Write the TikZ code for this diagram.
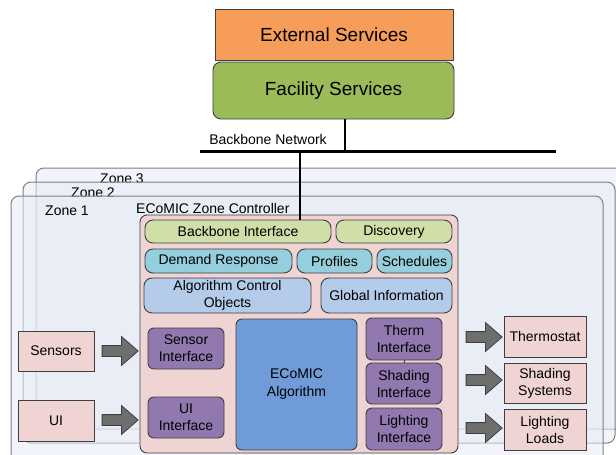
\documentclass[tikz,border=0pt]{standalone}
\usepackage{fontspec}
\setmainfont{Liberation Sans}
\usetikzlibrary{shapes.arrows}
\definecolor{extor}{HTML}{F79D5A}
\definecolor{facgr}{HTML}{9BBB59}
\definecolor{ctrlpk}{HTML}{F0D4D3}
\definecolor{bbgr}{HTML}{D0DEA8}
\definecolor{drbl}{HTML}{95CEDC}
\definecolor{acobl}{HTML}{B4CCEA}
\definecolor{purp}{HTML}{9179AF}
\definecolor{algbl}{HTML}{6F9BD8}
\definecolor{arrgr}{HTML}{6E6E6E}
\definecolor{bord}{HTML}{3F3F3F}
\definecolor{zonefill}{HTML}{E6EBF5}
\definecolor{zonebord}{HTML}{7F7F7F}
\begin{document}
\begin{tikzpicture}[x=1pt,y=-1pt,
  every node/.style={font=\fontsize{14}{17}\selectfont},
  box/.style={draw=bord, line width=0.9pt, inner sep=0pt, align=center, text=black},
  rbox/.style={box, rounded corners=6pt},
  zone/.style={draw=zonebord, line width=1pt, rounded corners=8pt, fill=zonefill, fill opacity=0.55},
  zlabel/.style={anchor=west, inner sep=0pt},
  blockarr/.style={shape=single arrow, draw=bord, fill=arrgr, line width=0.8pt,
     minimum height=36pt, inner xsep=0pt, inner ysep=5pt, single arrow head extend=9pt,
     single arrow tip angle=82},
  bigtxt/.style={font=\fontsize{19}{22}\selectfont}
]
\useasboundingbox (0,0) rectangle (616,455);

% zones
\draw[zone] (36,168) rectangle (640,429);
\node[zlabel] (z3) at (100,179) {Zone 3};
\draw[zone] (23,182) rectangle (615,443);
\node[zlabel] (z2) at (71,193) {Zone 2};
\draw[zone] (11,196) rectangle (603,475);
\node[zlabel] (z1) at (45,211) {Zone 1};

% top services
\node[box, fill=extor, bigtxt, minimum width=238pt, minimum height=51pt] (ext) at (334,34.5) {External Services};
\node[box, rounded corners=8pt, fill=facgr, bigtxt, minimum width=241pt, minimum height=57pt] (fac) at (333.5,90.5) {Facility Services};

% backbone
\coordinate (bbL) at (200,151);
\coordinate (bbR) at (556,151);
\coordinate (fdrop) at (345,151);
\coordinate (cdrop) at (300,151);
\node[anchor=center, inner sep=0pt] (bbn) at (268,139) {Backbone Network};

% controller
\node[anchor=west, inner sep=0pt] (ctl) at (136,208) {ECoMIC Zone Controller};
\node[rbox, rounded corners=7pt, fill=ctrlpk, minimum width=318pt, minimum height=238pt] (ctrl) at (299,334) {};

\node[rbox, rounded corners=8pt, fill=bbgr, minimum width=186pt, minimum height=23pt] (bbi) at (238,231.5) {Backbone Interface};
\node[rbox, rounded corners=8pt, fill=bbgr, minimum width=116pt, minimum height=23pt] (disc) at (394,231.5) {Discovery};

\node[rbox, rounded corners=8pt, fill=drbl, minimum width=147pt, minimum height=24pt] (dr) at (218.5,261) {Demand Response};
\node[rbox, rounded corners=8pt, fill=drbl, minimum width=75pt, minimum height=24pt] (prof) at (334.5,261) {Profiles};
\node[rbox, rounded corners=8pt, fill=drbl, minimum width=75pt, minimum height=24pt] (sched) at (414.5,261) {Schedules};

\node[rbox, rounded corners=8pt, fill=acobl, minimum width=167pt, minimum height=35pt] (aco) at (227.5,295.5) {Algorithm Control\\Objects};
\node[rbox, rounded corners=8pt, fill=acobl, minimum width=131pt, minimum height=35pt] (glob) at (386.5,295.5) {Global Information};

\node[rbox, fill=purp, minimum width=76pt, minimum height=41pt] (sens) at (186,348.5) {Sensor\\Interface};
\node[rbox, fill=purp, minimum width=76pt, minimum height=41pt] (uii) at (186,417.5) {UI\\Interface};
\node[rbox, fill=algbl, minimum width=121pt, minimum height=131pt, font=\fontsize{14}{18}\selectfont] (alg) at (296.5,384.5) {ECoMIC\\Algorithm};
\node[rbox, fill=purp, minimum width=76pt, minimum height=42pt] (therm) at (404,339) {Therm\\Interface};
\node[rbox, fill=purp, minimum width=76pt, minimum height=41pt] (shad) at (404,383.5) {Shading\\Interface};
\node[rbox, fill=purp, minimum width=76pt, minimum height=42pt] (light) at (404,429) {Lighting\\Interface};

% external devices
\node[box, fill=ctrlpk, minimum width=76pt, minimum height=40pt] (sensors) at (56,351) {Sensors};
\node[box, fill=ctrlpk, minimum width=76pt, minimum height=41pt] (ui) at (56,420.5) {UI};
\node[box, fill=ctrlpk, minimum width=82pt, minimum height=41pt] (thermo) at (545,336.5) {Thermostat};
\node[box, fill=ctrlpk, minimum width=82pt, minimum height=40pt] (shsys) at (545,383) {Shading\\Systems};
\node[box, fill=ctrlpk, minimum width=82pt, minimum height=41pt] (ll) at (545,429.5) {Lighting\\Loads};

% block arrows
\node[blockarr] (a1) at (117,351) {};
\node[blockarr] (a2) at (117,420) {};
\node[blockarr] (a3) at (481,337) {};
\node[blockarr] (a4) at (481,380) {};
\node[blockarr] (a5) at (481,428) {};

% lines
\draw[line width=3pt] (bbL) -- (bbR);
\draw[line width=2.5pt] (fac.south -| fdrop) -- (fdrop);
\draw[line width=2.5pt] (cdrop) -- (cdrop |- bbi.north);
\draw[line width=0.8pt, bord] (therm.south) -- (shad.north);
\end{tikzpicture}
\end{document}
